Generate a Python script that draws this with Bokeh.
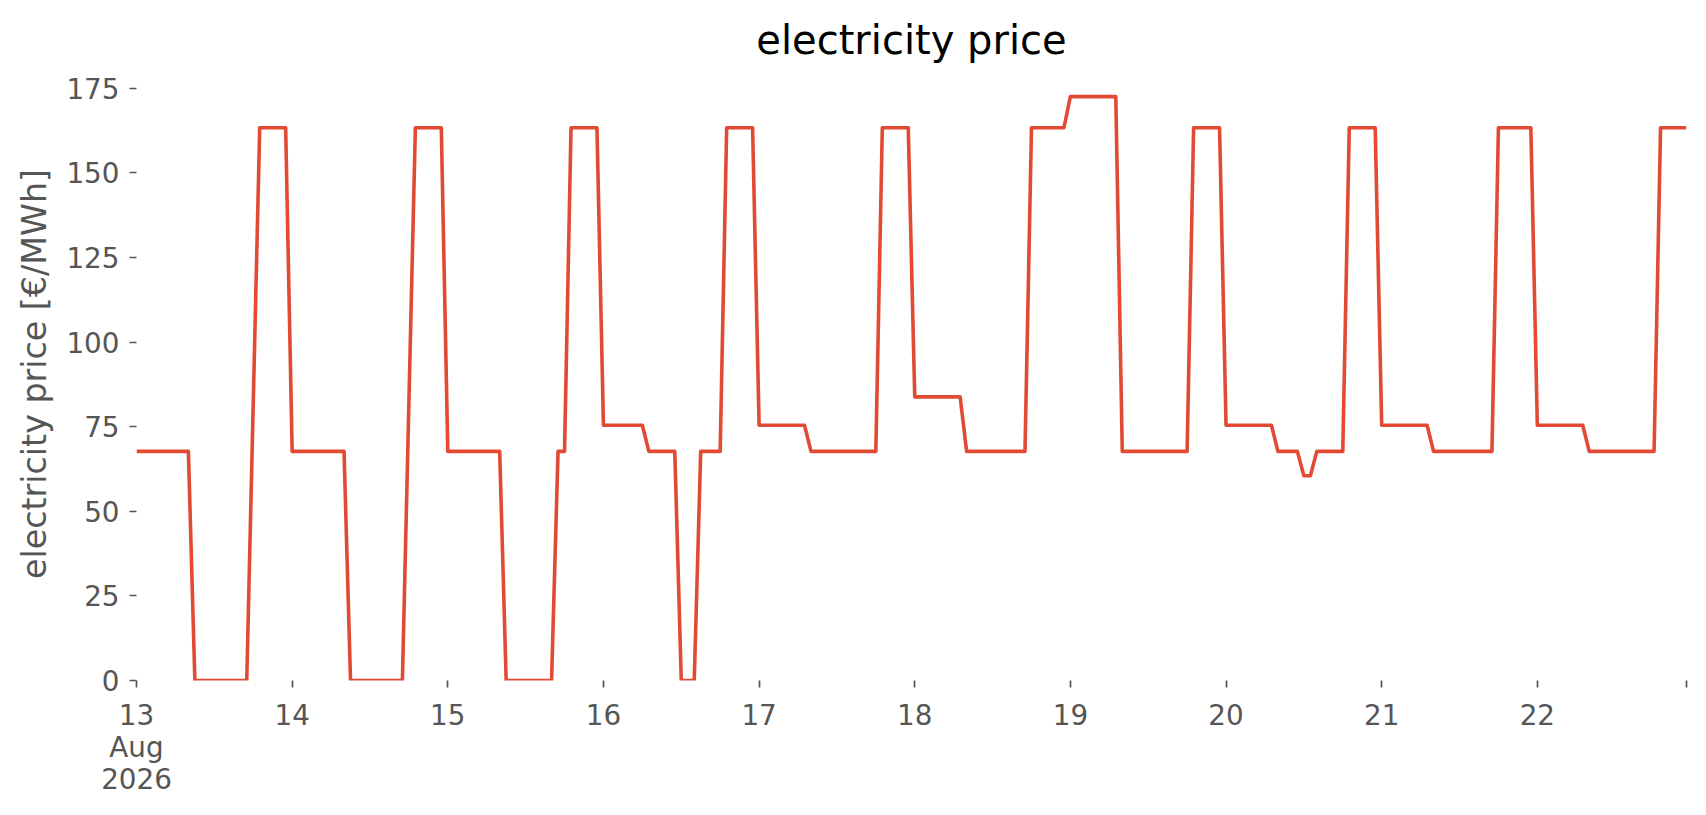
import pandas as pd
from bokeh.plotting import figure
from bokeh.models import ColumnDataSource, Range1d, FixedTicker
from bokeh.embed import file_html
from bokeh.resources import INLINE

# ---- data (hourly electricity price, €/MWh) ----
start = "2026-08-13 00:00"
aug13 = [67.7, 67.7, 67.7, 67.7, 67.7, 67.7, 67.7, 67.7, 67.7, 0, 0, 0, 0, 0, 0, 0, 0, 0,
         82.0, 163.3, 163.3, 163.3, 163.3, 163.3]
aug14 = [67.7, 67.7, 67.7, 67.7, 67.7, 67.7, 67.7, 67.7, 67.7, 0, 0, 0, 0, 0, 0, 0, 0, 0,
         82.0, 163.3, 163.3, 163.3, 163.3, 163.3]
aug15 = [67.7, 67.7, 67.7, 67.7, 67.7, 67.7, 67.7, 67.7, 67.7, 0, 0, 0, 0, 0, 0, 0, 0,
         67.7, 67.7, 163.3, 163.3, 163.3, 163.3, 163.3]
aug16 = [75.4, 75.4, 75.4, 75.4, 75.4, 75.4, 75.4, 67.7, 67.7, 67.7, 67.7, 67.7, 0, 0, 0,
         67.7, 67.7, 67.7, 67.7, 163.3, 163.3, 163.3, 163.3, 163.3]
aug17 = [75.4, 75.4, 75.4, 75.4, 75.4, 75.4, 75.4, 75.4, 67.7, 67.7, 67.7, 67.7, 67.7, 67.7,
         67.7, 67.7, 67.7, 67.7, 67.7, 163.3, 163.3, 163.3, 163.3, 163.3]
aug18 = [83.8, 83.8, 83.8, 83.8, 83.8, 83.8, 83.8, 83.8, 67.7, 67.7, 67.7, 67.7, 67.7, 67.7,
         67.7, 67.7, 67.7, 67.7, 163.3, 163.3, 163.3, 163.3, 163.3, 163.3]
aug19 = [172.5, 172.5, 172.5, 172.5, 172.5, 172.5, 172.5, 172.5, 67.7, 67.7, 67.7, 67.7, 67.7,
         67.7, 67.7, 67.7, 67.7, 67.7, 67.7, 163.3, 163.3, 163.3, 163.3, 163.3]
aug20 = [75.4, 75.4, 75.4, 75.4, 75.4, 75.4, 75.4, 75.4, 67.7, 67.7, 67.7, 67.7, 60.5, 60.5,
         67.7, 67.7, 67.7, 67.7, 67.7, 163.3, 163.3, 163.3, 163.3, 163.3]
aug21 = [75.4, 75.4, 75.4, 75.4, 75.4, 75.4, 75.4, 75.4, 67.7, 67.7, 67.7, 67.7, 67.7, 67.7,
         67.7, 67.7, 67.7, 67.7, 163.3, 163.3, 163.3, 163.3, 163.3, 163.3]
aug22 = [75.4, 75.4, 75.4, 75.4, 75.4, 75.4, 75.4, 75.4, 67.7, 67.7, 67.7, 67.7, 67.7, 67.7,
         67.7, 67.7, 67.7, 67.7, 67.7, 163.3, 163.3, 163.3, 163.3, 163.3]

day_labels = ["13\nAug\n2026", "14", "15", "16", "17", "18", "19", "20", "21", "22"]
y_ticks = [0, 25, 50, 75, 100, 125, 150, 175]

price = aug13 + aug14 + aug15 + aug16 + aug17 + aug18 + aug19 + aug20 + aug21 + aug22
t = pd.date_range(start, periods=len(price), freq="h")
src = ColumnDataSource(dict(t=t, price=price))


def ms(ts):
    return float(pd.Timestamp(ts).value / 1e6)


days = pd.date_range(start, periods=len(day_labels), freq="D")
tick_vals = [ms(d) for d in days] + [ms(t[-1])]
overrides = {ms(d): lab for d, lab in zip(days, day_labels)}
overrides[ms(t[-1])] = " "

GREY = "#555555"
FONT = "DejaVu Sans"

p = figure(width=1690, height=799, x_axis_type="datetime",
           output_backend="svg", toolbar_location=None,
           x_range=Range1d(ms(t[0]), ms(t[-1])), y_range=Range1d(0, 181.1),
           min_border_left=136, min_border_right=4,
           min_border_top=67, min_border_bottom=112,
           title="electricity price")

p.line(x="t", y="price", source=src, line_color="#E24A33", line_width=3.6,
       line_join="round")

p.background_fill_color = "white"
p.border_fill_color = "white"
p.outline_line_color = None
p.xgrid.grid_line_color = None
p.ygrid.grid_line_color = None

p.title.text_font = FONT
p.title.text_font_size = "40px"
p.title.text_font_style = "normal"
p.title.text_color = "black"
p.title.align = "center"

for ax in (p.xaxis[0], p.yaxis[0]):
    ax.axis_line_color = None
    ax.major_tick_line_color = GREY
    ax.major_tick_line_width = 1.7
    ax.major_tick_out = 7
    ax.major_tick_in = 0
    ax.minor_tick_line_color = None
    ax.major_label_text_font = FONT
    ax.major_label_text_font_size = "27.8px"
    ax.major_label_text_color = GREY
    ax.major_label_standoff = 10

p.xaxis.ticker = FixedTicker(ticks=tick_vals)
p.xaxis.major_label_overrides = overrides
p.xaxis.major_label_text_line_height = 0.98
p.xaxis.major_label_standoff = 11

p.yaxis.ticker = FixedTicker(ticks=y_ticks)
p.yaxis.axis_label = "electricity price [€/MWh]"
p.yaxis.axis_label_text_font = FONT
p.yaxis.axis_label_text_font_size = "33.3px"
p.yaxis.axis_label_text_font_style = "normal"
p.yaxis.axis_label_text_color = GREY
p.yaxis.axis_label_standoff = 9

with open("out.html", "w", encoding="utf-8") as f:
    f.write(file_html(p, INLINE))
